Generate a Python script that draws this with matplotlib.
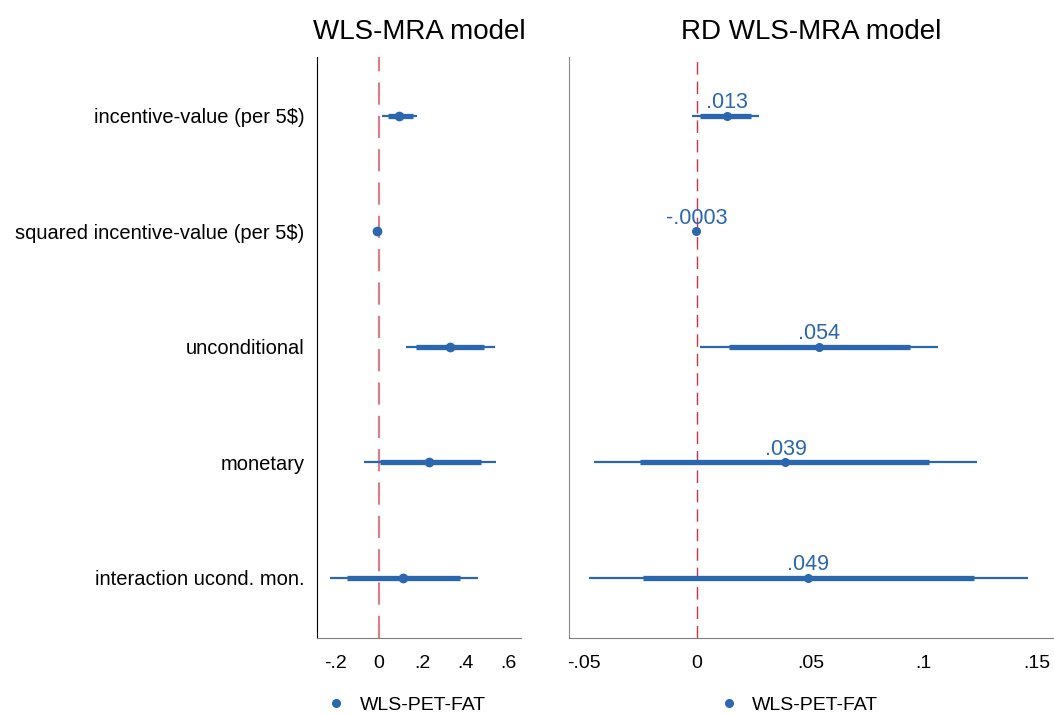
import matplotlib.pyplot as plt
from matplotlib.lines import Line2D

plt.rcParams['font.family'] = ['Liberation Sans', 'DejaVu Sans']

# coefficient plot data
terms = ['incentive-value (per 5$)', 'squared incentive-value (per 5$)',
         'unconditional', 'monetary', 'interaction ucond. mon.']

# WLS-MRA model
wls_coef = [0.092, -0.010, 0.329, 0.234, 0.110]
wls_lo95 = [0.014, -0.014, 0.126, -0.070, -0.230]
wls_hi95 = [0.177, -0.006, 0.541, 0.546, 0.460]
wls_lo90 = [0.040, -0.012, 0.172, 0.006, -0.149]
wls_hi90 = [0.158, -0.008, 0.490, 0.473, 0.378]

# RD WLS-MRA model
rd_coef = [0.0130, -0.0003, 0.0540, 0.0390, 0.0490]
rd_lo95 = [-0.0022, -0.0006, 0.0015, -0.0456, -0.0475]
rd_hi95 = [0.0272, 0.0000, 0.1065, 0.1233, 0.1460]
rd_lo90 = [0.0015, -0.0005, 0.0143, -0.0253, -0.0240]
rd_hi90 = [0.0236, -0.0001, 0.0938, 0.1023, 0.1220]
rd_labels = ['.013', '-.0003', '.054', '.039', '.049']

wls_ticks = [-0.2, 0, 0.2, 0.4, 0.6]
wls_ticklabels = ['-.2', '0', '.2', '.4', '.6']
rd_ticks = [-0.05, 0, 0.05, 0.1, 0.15]
rd_ticklabels = ['-.05', '0', '.05', '.1', '.15']

blue = '#2a67ae'
pos = list(range(1, len(terms) + 1))

fig = plt.figure(figsize=(10.54, 7.14), dpi=100)
ax1 = fig.add_axes([0.3008, 0.1064, 0.1935, 0.8137])
ax2 = fig.add_axes([0.5398, 0.1064, 0.4592, 0.8137])

# left panel
ax1.hlines(pos, wls_lo95, wls_hi95, color=blue, lw=1.6, zorder=3)
ax1.hlines(pos, wls_lo90, wls_hi90, color=blue, lw=3.8, zorder=3)
ax1.plot(wls_coef, pos, 'o', color=blue, ms=6, zorder=4)
ax1.axvline(0, color='#d4808e', lw=1.6, dashes=(10, 5), zorder=2)
ax1.set_xlim(-0.288, 0.66)
ax1.set_xticks(wls_ticks)
ax1.set_xticklabels(wls_ticklabels)
ax1.set_yticks(pos)
ax1.set_yticklabels(terms)
ax1.set_title('WLS-MRA model', fontsize=20, pad=13)

# right panel
ax2.hlines(pos, rd_lo95, rd_hi95, color=blue, lw=1.6, zorder=3)
ax2.hlines(pos, rd_lo90, rd_hi90, color=blue, lw=3.8, zorder=3)
ax2.plot(rd_coef, pos, 'o', color=blue, ms=5.5, zorder=4)
for x, y, s in zip(rd_coef, pos, rd_labels):
    ax2.annotate(s, (x, y), xytext=(0, 2), textcoords='offset points',
                 ha='center', va='bottom', color=blue, fontsize=15.5)
ax2.axvline(0, color='#cc3344', lw=1.0, dashes=(9, 5), zorder=2)
ax2.set_xlim(-0.0565, 0.157)
ax2.set_xticks(rd_ticks)
ax2.set_xticklabels(rd_ticklabels)
ax2.set_yticks(pos)
ax2.set_yticklabels([])
ax2.set_title('RD WLS-MRA model', fontsize=20, pad=13)

for ax in (ax1, ax2):
    ax.set_ylim(5.52, 0.49)
    ax.spines['top'].set_visible(False)
    ax.spines['right'].set_visible(False)
    ax.spines['bottom'].set_color('#7f7f7f')
    ax.tick_params(length=0, labelsize=14, pad=9)
    ax.tick_params(axis='x', pad=12)
ax1.spines['left'].set_color('black')
ax2.spines['left'].set_color('#8a8a8a')
ax1.tick_params(axis='y', labelsize=14.5)

# legends
for xd, xt in [(336, 360), (729, 752)]:
    fig.add_artist(Line2D([xd / 1054], [1 - 703 / 714], marker='o', ms=5.5,
                          color=blue, linestyle='none'))
    fig.text(xt / 1054, 1 - 706 / 714, 'WLS-PET-FAT', fontsize=14,
             ha='left', va='center')

fig.savefig('out.png', dpi=100)
